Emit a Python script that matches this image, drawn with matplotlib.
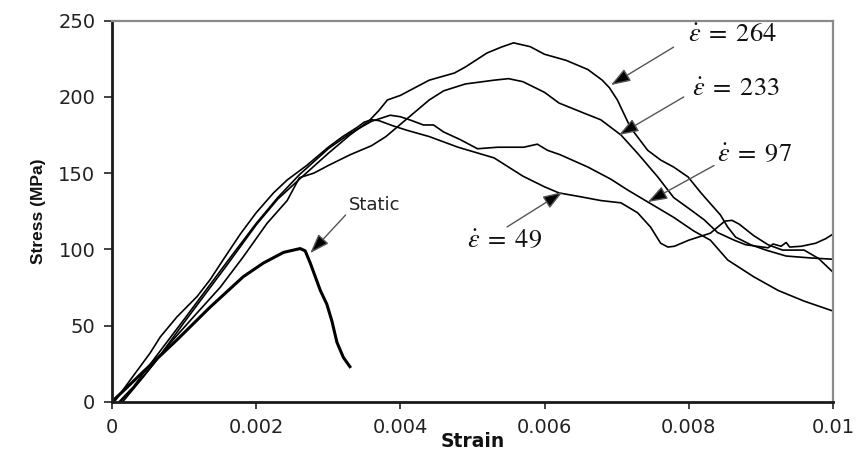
import matplotlib
matplotlib.use("Agg")
import matplotlib.pyplot as plt
import numpy as np

plt.rcParams['mathtext.fontset'] = 'stix'

# ---- data (strain, stress MPa) ----
static_strain = [0, 0.0002, 0.00043, 0.0009, 0.00136, 0.00182, 0.0021, 0.00238, 0.00261,
                 0.00268, 0.00275, 0.00289, 0.00298, 0.00305, 0.00312, 0.00321, 0.0033]
static_stress = [0, 9, 19.5, 40.5, 62, 82, 91, 98, 100.5, 99, 91, 73, 64, 53, 39, 29, 23]

r49_strain = [0, 0.00005, 0.00025, 0.00053, 0.00067, 0.0009, 0.00118, 0.00136, 0.00154, 0.00178,
              0.002, 0.00224, 0.00243, 0.0027, 0.003, 0.0032, 0.0034, 0.0035, 0.0036, 0.0037,
              0.0039, 0.0041, 0.0044, 0.0048, 0.0053, 0.0055, 0.0057, 0.006, 0.0062, 0.0065,
              0.00678, 0.00706, 0.00729, 0.00747, 0.00761, 0.00771, 0.0078, 0.008, 0.0083,
              0.0085, 0.0086, 0.0087, 0.0089, 0.0091, 0.0093, 0.0096, 0.0098, 0.01]
r49_stress = [0, 1, 14, 32, 42.5, 55.6, 69, 80, 93, 110,
              124, 137, 145.5, 155, 167, 174, 180, 183.5, 185, 184.5,
              181, 178, 174, 167, 160, 154, 148, 141, 137, 134.5,
              132, 130.5, 124, 114.6, 104, 101.5, 102, 106, 110.6,
              118.5, 119, 116.5, 109, 103, 99.5, 99.5, 94, 85]

r97_strain = [0.0001, 0.0003, 0.0006, 0.001, 0.0013, 0.0016, 0.002, 0.0023, 0.0026, 0.003,
              0.0033, 0.0036, 0.00386, 0.004, 0.00414, 0.00432, 0.00446, 0.0046, 0.00483,
              0.00507, 0.00535, 0.00571, 0.0059, 0.00604, 0.00622, 0.0066, 0.00692, 0.00715,
              0.00747, 0.00779, 0.00807, 0.0083, 0.00854, 0.0089, 0.00924, 0.0096, 0.01]
r97_stress = [0, 10, 29, 54, 73, 92, 117, 134, 149, 166,
              176, 184, 188, 187, 184.8, 181.6, 181.6, 177, 172,
              166, 167, 167, 169, 165, 162, 154, 146, 139,
              130, 121, 112, 106, 93, 82, 73, 66, 59.5]

r233_strain = [0.00015, 0.00043, 0.00076, 0.00113, 0.0015, 0.00182, 0.00215, 0.00243, 0.0026,
               0.0028, 0.003, 0.0033, 0.0036, 0.0038, 0.004, 0.0042, 0.0044, 0.0046, 0.0049,
               0.0053, 0.0055, 0.0057, 0.006, 0.0062, 0.00654, 0.00678, 0.00692, 0.00706,
               0.00729, 0.00757, 0.00779, 0.00803, 0.00821, 0.0084, 0.00863, 0.00879, 0.0091,
               0.00917, 0.00928, 0.00935, 0.0094, 0.00956, 0.00976, 0.0099, 0.01]
r233_stress = [0, 16, 36, 55.6, 75, 95, 117, 132, 147,
               150, 155, 162, 168, 174, 182, 190, 198, 204, 208.5,
               211, 212, 210, 203, 196, 189.5, 185, 180, 175,
               163, 147.5, 134, 125.8, 119.5, 111, 106, 103, 101,
               103.5, 102, 104.5, 101.5, 102, 104, 107, 110]

r264_strain = [0.00012, 0.0003, 0.0006, 0.001, 0.0013, 0.0016, 0.002, 0.0023, 0.0026, 0.003,
               0.0033, 0.0035, 0.00358, 0.0037, 0.00382, 0.004, 0.0042, 0.0044, 0.00475, 0.0049,
               0.0052, 0.0054, 0.00557, 0.0058, 0.006, 0.0063, 0.0066, 0.0068, 0.0069, 0.00701,
               0.00719, 0.00743, 0.00761, 0.00779, 0.00799, 0.00817, 0.0083, 0.00844, 0.00854,
               0.00865, 0.00886, 0.00907, 0.00935, 0.0097, 0.01]
r264_stress = [0, 9, 26, 52, 71, 90, 116, 133, 146, 163,
               175, 182, 185, 191, 198, 201, 206, 211, 215.7, 219.6,
               228.8, 232.7, 235.5, 233, 228, 224, 218, 211, 206, 198,
               180, 165, 158.6, 154, 147.5, 137, 130, 122.5, 114.6,
               108, 103, 99.5, 95.6, 94.3, 93.5]

x_ticks = [0, 0.002, 0.004, 0.006, 0.008, 0.01]
x_tick_labels = ["0", "0.002", "0.004", "0.006", "0.008", "0.01"]
y_ticks = [0, 50, 100, 150, 200, 250]
y_tick_labels = ["0", "50", "100", "150", "200", "250"]

# ---- figure ----
fig = plt.figure(figsize=(8.56, 4.51), dpi=100)
ax = fig.add_axes([0.1308, 0.1093, 0.9731 - 0.1308, 0.954 - 0.1093])

lw = 1.2
ax.plot(r49_strain, r49_stress, color='black', lw=lw)
ax.plot(r97_strain, r97_stress, color='black', lw=lw)
ax.plot(r233_strain, r233_stress, color='black', lw=lw)
ax.plot(r264_strain, r264_stress, color='black', lw=lw)
ax.plot(static_strain, static_stress, color='black', lw=2.2)

ax.set_xlim(0, 0.01)
ax.set_ylim(0, 250)
ax.set_xticks(x_ticks)
ax.set_xticklabels(x_tick_labels, fontsize=14, family='DejaVu Sans', color='#222222')
ax.set_yticks(y_ticks)
ax.set_yticklabels(y_tick_labels, fontsize=14, family='DejaVu Sans', color='#222222')
ax.tick_params(axis='x', length=5, width=1.2, pad=7, color='#222222')
ax.tick_params(axis='y', length=6, width=1.2, pad=6, color='#222222')

for s in ['left', 'bottom']:
    ax.spines[s].set_color('#1a1a1a')
    ax.spines[s].set_linewidth(2.0)
for s in ['top', 'right']:
    ax.spines[s].set_color('#8a8a8a')
    ax.spines[s].set_linewidth(1.6)

ax.set_xlabel('Strain', fontsize=13.5, family='DejaVu Sans', fontweight='bold', labelpad=-4, color='#111111')
ax.set_ylabel('Stress (MPa)', fontsize=12.5, family='Liberation Sans', fontweight='bold', labelpad=9, color='#111111')

# ---- annotations ----
arrow_kw = dict(arrowstyle='-|>,head_length=1.0,head_width=0.35', mutation_scale=12,
                ec='#555555', fc='black', lw=1.0, shrinkA=0, shrinkB=0)

ax.text(0.003646, 129, 'Static', fontsize=13, family='DejaVu Sans', ha='center', va='center', color='#222222')
ax.annotate('', xy=(0.00275, 97.5), xytext=(0.00324, 122.5), arrowprops=arrow_kw)

labels = [
    (r'$\dot{\varepsilon}\;=\;264$', 0.0086, 240.6, (0.00692, 207.8), (0.00779, 232.7)),
    (r'$\dot{\varepsilon}\;=\;233$', 0.00865, 205, (0.00703, 175), (0.00793, 200)),
    (r'$\dot{\varepsilon}\;=\;97$', 0.00891, 162.5, (0.00743, 131), (0.00835, 155)),
    (r'$\dot{\varepsilon}\;=\;49$', 0.00544, 106, (0.00625, 137.6), (0.00548, 114.7)),
]
for txt, tx, ty, tip, start in labels:
    ax.text(tx, ty, txt, fontsize=19, ha='center', va='center', color='#111111')
    ax.annotate('', xy=tip, xytext=start, arrowprops=arrow_kw)

fig.savefig('out.png', dpi=100)
